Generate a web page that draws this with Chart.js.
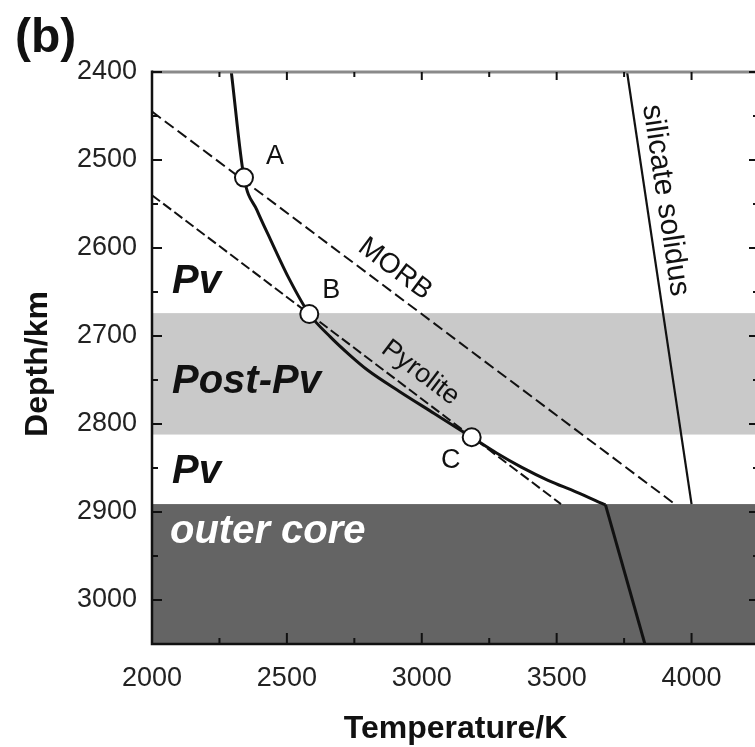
<!DOCTYPE html>
<html>
<head>
<meta charset="utf-8">
<script src="https://cdn.jsdelivr.net/npm/chart.js@4.4.1/dist/chart.umd.min.js"></script>
<style>
  html, body { margin: 0; padding: 0; background: #fff; overflow: hidden; width: 755px; height: 747px; }
  canvas { display: block; }
</style>
</head>
<body>
<canvas id="c" width="770" height="747"></canvas>
<script>
// Geotherm through the lowermost mantle (temperature in K, depth in km)
const geothermT     = [2294, 2341, 2389, 2440, 2510, 2583, 2661, 2734, 2800, 2917, 3046, 3185, 3277, 3369, 3468, 3571, 3681];
const geothermDepth = [2400, 2520, 2557, 2591, 2636, 2675, 2701, 2722, 2739, 2763, 2788, 2815, 2833, 2849, 2864, 2877, 2892];
// Geotherm continued into the outer core
const coreGeothermT     = [3681, 3827];
const coreGeothermDepth = [2892, 3050];
// Pv / post-Pv phase boundaries
const morbT = [2000, 3938];
const morbDepth = [2445, 2891];
const pyroliteT = [2000, 3516];
const pyroliteDepth = [2540, 2891];
// Silicate solidus
const solidusT = [3761, 4000];
const solidusDepth = [2400, 2891];
// Crossings of the geotherm with the phase boundaries
const crossingNames = ['A', 'B', 'C'];
const crossingT = [2341, 2583, 3185];
const crossingDepth = [2520, 2675, 2815];
// Depth ranges of the shaded layers
const postPvDepths = [2674, 2812];
const outerCoreDepths = [2891, 3050];
// Axis ticks
const tempTicks = [2000, 2500, 3000, 3500, 4000];
const depthTicks = [2400, 2500, 2600, 2700, 2800, 2900, 3000];

const FONT = "'Liberation Sans', Arial, Helvetica, sans-serif";
const pts = (xs, ys) => xs.map((v, i) => ({ x: v, y: ys[i] }));

const decor = {
  id: 'decor',
  beforeDatasetsDraw(chart) {
    const { ctx, chartArea: a, scales: { y } } = chart;
    ctx.save();
    let t = y.getPixelForValue(postPvDepths[0]);
    let b = y.getPixelForValue(postPvDepths[1]);
    ctx.fillStyle = '#c9c9c9';
    ctx.fillRect(a.left, t, a.right - a.left, b - t);
    t = y.getPixelForValue(outerCoreDepths[0]);
    b = y.getPixelForValue(outerCoreDepths[1]);
    ctx.fillStyle = '#646464';
    ctx.fillRect(a.left, t, a.right - a.left, b - t);
    ctx.restore();
  },
  afterDatasetsDraw(chart) {
    const { ctx, chartArea: a, scales: { x, y } } = chart;
    ctx.save();

    // layer names
    ctx.textAlign = 'left';
    ctx.textBaseline = 'alphabetic';
    ctx.font = `italic bold 40px ${FONT}`;
    ctx.fillStyle = '#111';
    ctx.fillText('Pv', 172, y.getPixelForValue(2651));
    ctx.fillText('Post-Pv', 172, y.getPixelForValue(2765));
    ctx.fillText('Pv', 172, y.getPixelForValue(2867));
    ctx.fillStyle = '#fff';
    ctx.fillText('outer core', 170, y.getPixelForValue(2935));

    // crossing letters
    ctx.fillStyle = '#111';
    ctx.font = `27px ${FONT}`;
    ctx.textAlign = 'center';
    ctx.textBaseline = 'middle';
    const offs = [[31, -21], [22, -23], [-21, 23]];
    crossingNames.forEach((n, i) => {
      ctx.fillText(n, x.getPixelForValue(crossingT[i]) + offs[i][0], y.getPixelForValue(crossingDepth[i]) + offs[i][1]);
    });

    // labels laid along the boundary lines
    const lineLabel = (text, xs, ys, atDepth, dist, size) => {
      const x0 = x.getPixelForValue(xs[0]), y0 = y.getPixelForValue(ys[0]);
      const x1 = x.getPixelForValue(xs[1]), y1 = y.getPixelForValue(ys[1]);
      const th = Math.atan2(y1 - y0, x1 - x0);
      const py = y.getPixelForValue(atDepth);
      const px = x0 + (py - y0) * (x1 - x0) / (y1 - y0);
      ctx.save();
      ctx.translate(px + dist * Math.sin(th), py - dist * Math.cos(th));
      ctx.rotate(th);
      ctx.font = `${size}px ${FONT}`;
      ctx.fillText(text, 0, 0);
      ctx.restore();
    };
    lineLabel('MORB', morbT, morbDepth, 2642, 20, 28);
    lineLabel('Pyrolite', pyroliteT, pyroliteDepth, 2760, 20, 27);
    lineLabel('silicate solidus', solidusT, solidusDepth, 2549, 19, 30);

    // frame
    ctx.lineCap = 'butt';
    ctx.strokeStyle = '#8a8a8a';
    ctx.lineWidth = 3;
    ctx.beginPath(); ctx.moveTo(a.left, a.top); ctx.lineTo(a.right, a.top); ctx.stroke();
    ctx.strokeStyle = '#111';
    ctx.lineWidth = 2.5;
    ctx.beginPath();
    ctx.moveTo(a.left, a.top - 1.5); ctx.lineTo(a.left, a.bottom);
    ctx.lineTo(a.right, a.bottom); ctx.lineTo(a.right, a.top);
    ctx.stroke();

    // inward tick marks, major and minor
    ctx.lineWidth = 2;
    for (let v = x.min; v <= x.max; v += 250) {
      const px = x.getPixelForValue(v);
      const major = v % 500 === 0;
      ctx.beginPath();
      ctx.moveTo(px, a.bottom); ctx.lineTo(px, a.bottom - (major ? 11 : 6));
      ctx.moveTo(px, a.top); ctx.lineTo(px, a.top + (major ? 8 : 5));
      ctx.stroke();
    }
    for (let v = y.min; v <= y.max; v += 50) {
      const py = y.getPixelForValue(v);
      const major = v % 100 === 0;
      ctx.beginPath();
      ctx.moveTo(a.left, py); ctx.lineTo(a.left + (major ? 10 : 6), py);
      ctx.moveTo(a.right, py); ctx.lineTo(a.right - (major ? 10 : 6), py);
      ctx.stroke();
    }

    // panel tag and axis titles
    ctx.fillStyle = '#111';
    ctx.font = `bold 48px ${FONT}`;
    ctx.textAlign = 'left';
    ctx.textBaseline = 'alphabetic';
    ctx.fillText('(b)', 15, 52);
    ctx.font = `bold 32px ${FONT}`;
    ctx.textAlign = 'center';
    ctx.fillText('Temperature/K', (a.left + a.right) / 2, 738);
    ctx.save();
    ctx.translate(47, 364);
    ctx.rotate(-Math.PI / 2);
    ctx.fillText('Depth/km', 0, 0);
    ctx.restore();

    ctx.restore();
  }
};

const line = (data, width, dash) => ({
  data, showLine: true, borderColor: '#111', borderWidth: width, borderDash: dash || [],
  pointRadius: 0, pointHoverRadius: 0, fill: false
});

new Chart(document.getElementById('c'), {
  type: 'scatter',
  data: {
    datasets: [
      {
        data: pts(crossingT, crossingDepth), showLine: false,
        pointRadius: 9, pointBorderWidth: 2, pointBackgroundColor: '#fff', pointBorderColor: '#111'
      },
      Object.assign(line(pts(geothermT, geothermDepth), 3), { cubicInterpolationMode: 'monotone' }),
      line(pts(coreGeothermT, coreGeothermDepth), 3),
      line(pts(morbT, morbDepth), 2, [11, 5]),
      line(pts(pyroliteT, pyroliteDepth), 2, [10, 4]),
      line(pts(solidusT, solidusDepth), 2.2)
    ]
  },
  options: {
    responsive: false,
    animation: false,
    events: [],
    layout: { padding: { left: 0, right: 5, top: 72, bottom: 0 } },
    plugins: { legend: { display: false }, tooltip: { enabled: false } },
    scales: {
      x: {
        type: 'linear', min: 2000, max: 4250,
        afterBuildTicks: s => { s.ticks = tempTicks.map(v => ({ value: v })); },
        afterFit: s => { s.height = 103; },
        grid: { display: false, drawTicks: false },
        border: { display: false },
        ticks: { padding: 18, color: '#222', font: { family: FONT, size: 27 }, callback: v => String(v) }
      },
      y: {
        type: 'linear', reverse: true, min: 2400, max: 3050,
        afterBuildTicks: s => { s.ticks = depthTicks.map(v => ({ value: v })); },
        afterFit: s => { s.width = 152; },
        grid: { display: false, drawTicks: false },
        border: { display: false },
        ticks: { padding: 15, color: '#222', font: { family: FONT, size: 27 }, callback: v => String(v) }
      }
    }
  },
  plugins: [decor]
});
</script>
</body>
</html>
